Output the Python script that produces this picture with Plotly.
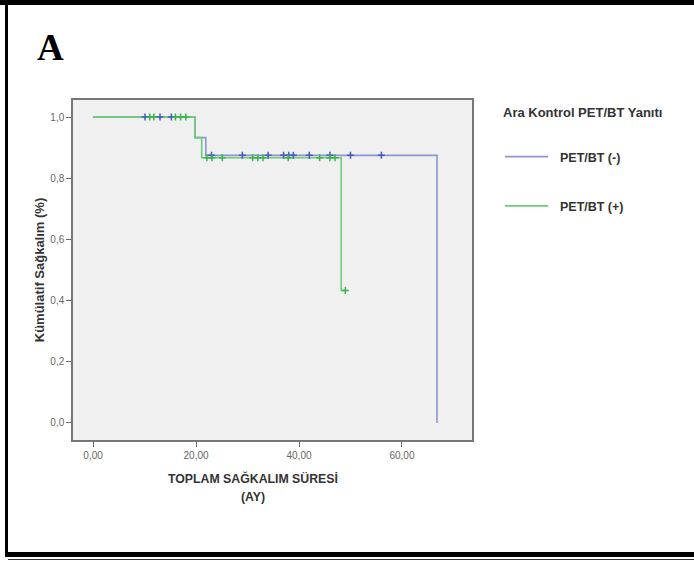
import plotly.graph_objects as go

# Kaplan-Meier step data
neg_time = [0, 19.8, 21.9, 66.8]
neg_surv = [1.0, 0.933, 0.875, 0.0]
pos_time = [0, 19.8, 21.1, 48.2, 49.0]
pos_surv = [1.0, 0.933, 0.867, 0.433, 0.433]

# censored observations
neg_cens_time = [10.1, 13.0, 15.2, 23.0, 29.0, 34.0, 37.0, 38.0, 38.9, 42.0, 46.0, 50.0, 56.0]
neg_cens_surv = [1.0, 1.0, 1.0, 0.875, 0.875, 0.875, 0.875, 0.875, 0.875, 0.875, 0.875, 0.875, 0.875]
pos_cens_time = [11.0, 11.8, 16.0, 17.0, 18.0, 22.1, 23.1, 25.1, 31.0, 32.0, 33.0, 37.9, 44.0, 46.0, 47.0, 49.0]
pos_cens_surv = [1.0, 1.0, 1.0, 1.0, 1.0, 0.867, 0.867, 0.867, 0.867, 0.867, 0.867, 0.867, 0.867, 0.867, 0.867, 0.433]

x_tickvals = [0, 20, 40, 60]
x_ticktext = ["0,00", "20,00", "40,00", "60,00"]
y_tickvals = [0.0, 0.2, 0.4, 0.6, 0.8, 1.0]
y_ticktext = ["0,0", "0,2", "0,4", "0,6", "0,8", "1,0"]

series_names = ["PET/BT (-)", "PET/BT (+)"]
BLUE = "rgb(140,150,206)"
GREEN = "rgb(110,204,120)"
BLUE_M = "rgb(70,90,190)"
GREEN_M = "rgb(55,180,75)"

fig = go.Figure()
fig.add_trace(go.Scatter(x=neg_time, y=neg_surv, mode="lines", line=dict(color=BLUE, width=1.6, shape="hv"),
                         name="&nbsp;&nbsp;<b>" + series_names[0] + "</b>", legendgroup="a"))
fig.add_trace(go.Scatter(x=pos_time, y=pos_surv, mode="lines", line=dict(color=GREEN, width=1.6, shape="hv"),
                         name="&nbsp;&nbsp;<b>" + series_names[1] + "</b>", legendgroup="b"))
fig.add_trace(go.Scatter(x=neg_cens_time, y=neg_cens_surv, mode="markers", showlegend=False,
                         marker=dict(symbol="cross-thin", size=5, line=dict(color=BLUE_M, width=1.5))))
fig.add_trace(go.Scatter(x=pos_cens_time, y=pos_cens_surv, mode="markers", showlegend=False,
                         marker=dict(symbol="cross-thin", size=5, line=dict(color=GREEN_M, width=1.5))))

L, R, T, B = 73, 472, 100, 440
W, H = 694, 561
def px(xp):
    return (xp - L) / (R - L)
def py(yp):
    return (B - yp) / (B - T)

shapes = [
    dict(type="rect", xref="paper", yref="paper", x0=px(-5), x1=px(700), y0=py(-2), y1=py(5),
         fillcolor="black", line=dict(width=0), layer="above"),
    dict(type="rect", xref="paper", yref="paper", x0=px(5), x1=px(8), y0=py(0), y1=py(556),
         fillcolor="black", line=dict(width=0), layer="above"),
    dict(type="rect", xref="paper", yref="paper", x0=px(5), x1=px(700), y0=py(552), y1=py(557),
         fillcolor="black", line=dict(width=0), layer="above"),
    dict(type="rect", xref="paper", yref="paper", x0=px(8), x1=px(700), y0=py(559), y1=py(560),
         fillcolor="#333", line=dict(width=0), layer="above"),
]

annotations = [
    dict(text="<b>A</b>", xref="paper", yref="paper", x=px(35), y=py(47), xanchor="left", yanchor="middle",
         showarrow=False, font=dict(family="Liberation Serif", size=37, color="black")),
    dict(text="<b>TOPLAM SAĞKALIM SÜRESİ</b>", xref="paper", yref="paper", x=px(253), y=py(478),
         xanchor="center", yanchor="middle", showarrow=False,
         font=dict(family="Liberation Sans", size=12.3, color="#333")),
    dict(text="<b>(AY)</b>", xref="paper", yref="paper", x=px(253), y=py(497),
         xanchor="center", yanchor="middle", showarrow=False,
         font=dict(family="Liberation Sans", size=12.3, color="#333")),
    dict(text="<b>Ara Kontrol PET/BT Yanıtı</b>", xref="paper", yref="paper", x=px(501), y=py(113),
         xanchor="left", yanchor="middle", showarrow=False,
         font=dict(family="Liberation Sans", size=13, color="#333")),
]

fig.update_layout(
    width=W, height=H,
    margin=dict(l=L, r=W - R, t=T, b=H - B),
    paper_bgcolor="white", plot_bgcolor="#F0F0F0",
    font=dict(family="Liberation Sans", size=10, color="#555"),
    shapes=shapes, annotations=annotations,
    legend=dict(x=px(500), y=py(142), xanchor="left", yanchor="top",
                font=dict(size=12.5, color="#333"), tracegroupgap=30, itemwidth=43,
                bgcolor="rgba(0,0,0,0)"),
    showlegend=True,
)
fig.update_xaxes(range=[-3.9, 73.6], tickvals=x_tickvals, ticktext=x_ticktext, showgrid=False, zeroline=False,
                 showline=True, linecolor="#777", linewidth=1.5, mirror=True, ticks="outside", ticklen=5,
                 tickcolor="#666", tickfont=dict(size=10, color="#666"))
fig.update_yaxes(range=[-0.056, 1.056], tickvals=y_tickvals, ticktext=y_ticktext, showgrid=False, zeroline=False,
                 showline=True, linecolor="#777", linewidth=1.5, mirror=True, ticks="outside", ticklen=5,
                 tickcolor="#666", tickfont=dict(size=10, color="#666"),
                 title=dict(text="<b>Kümülatif Sağkalım (%)</b>", font=dict(size=13, color="#333"), standoff=3))

fig.write_html("out.html", config={"displayModeBar": False},
               post_script="document.body.style.margin='0';")
